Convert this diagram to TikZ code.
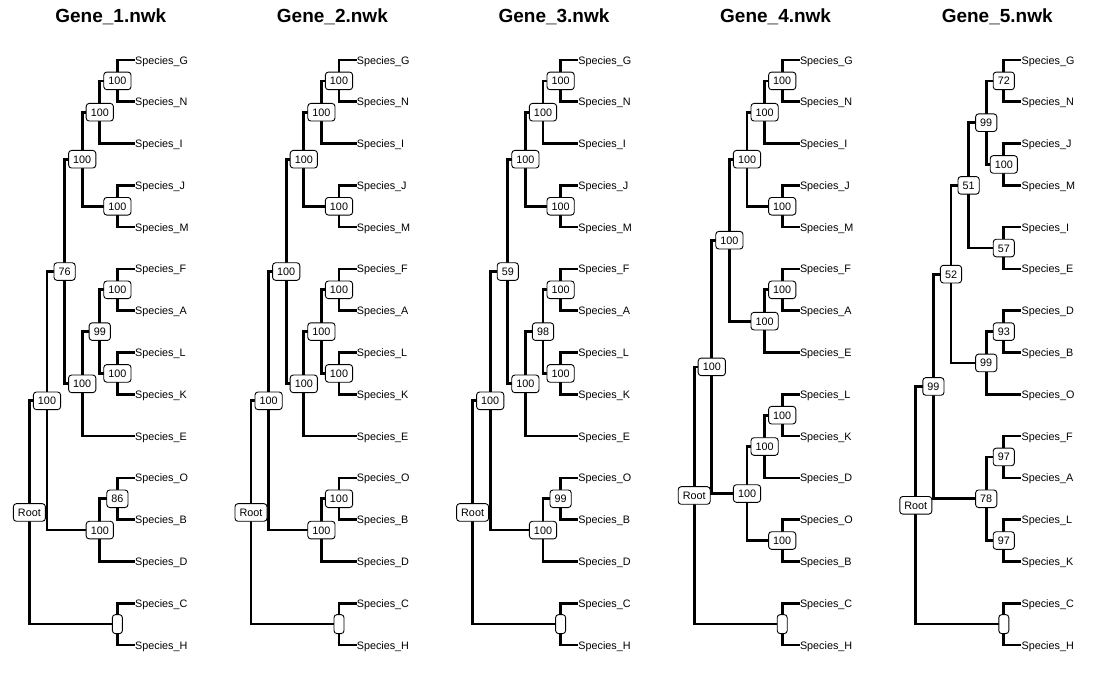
\documentclass[tikz,border=0pt]{standalone}
\usepackage{fontspec}
\setmainfont{Liberation Sans}
\tikzset{
  branch/.style={line width=2.7pt, line join=miter, black},
  tiplab/.style={anchor=west, inner sep=0pt, text height=8pt, text depth=0pt, font=\fontsize{10.8}{12}\selectfont},
  blab/.style={draw, line width=0.9pt, rounded corners=3pt, fill=white, inner xsep=4.6pt, inner ysep=4.8pt, text height=8pt, text depth=0pt, font=\fontsize{10.8}{12}\selectfont},
  emptylab/.style={draw, line width=0.9pt, rounded corners=3pt, fill=white, inner sep=0pt, minimum width=10pt, minimum height=19pt},
  titlelab/.style={inner sep=0pt, text height=13pt, text depth=0pt, font=\fontsize{19}{22}\selectfont\bfseries}
}
\newcommand{\TipN}[4]{\node[tiplab] (#2) at ({221.6*#1+135},{60+41.786*#3}) {#4};}
\newcommand{\InN}[4]{\coordinate (#2) at ({221.6*#1+135-17.6*#3},{60+41.786*#4});}
\newcommand{\Edg}[2]{\draw[branch] (#1) |- (#2);}
\newcommand{\TreeABC}[5]{%
  \TipN{#1}{#2G}{0}{Species\_G}
  \TipN{#1}{#2N}{1}{Species\_N}
  \TipN{#1}{#2I}{2}{Species\_I}
  \TipN{#1}{#2J}{3}{Species\_J}
  \TipN{#1}{#2M}{4}{Species\_M}
  \TipN{#1}{#2F}{5}{Species\_F}
  \TipN{#1}{#2A}{6}{Species\_A}
  \TipN{#1}{#2L}{7}{Species\_L}
  \TipN{#1}{#2K}{8}{Species\_K}
  \TipN{#1}{#2E}{9}{Species\_E}
  \TipN{#1}{#2O}{10}{Species\_O}
  \TipN{#1}{#2B}{11}{Species\_B}
  \TipN{#1}{#2D}{12}{Species\_D}
  \TipN{#1}{#2C}{13}{Species\_C}
  \TipN{#1}{#2H}{14}{Species\_H}
  \InN{#1}{#2GN}{1}{0.5}
  \InN{#1}{#2GNI}{2}{1.25}
  \InN{#1}{#2JM}{1}{3.5}
  \InN{#1}{#2X}{3}{2.375}
  \InN{#1}{#2FA}{1}{5.5}
  \InN{#1}{#2LK}{1}{7.5}
  \InN{#1}{#2FALK}{2}{6.5}
  \InN{#1}{#2FALKE}{3}{7.75}
  \InN{#1}{#2Y}{4}{5.0625}
  \InN{#1}{#2OB}{1}{10.5}
  \InN{#1}{#2OBD}{2}{11.25}
  \InN{#1}{#2Z}{5}{8.15625}
  \InN{#1}{#2CH}{1}{13.5}
  \InN{#1}{#2R}{6}{10.828125}
  \Edg{#2GN}{#2G.west}\Edg{#2GN}{#2N.west}
  \Edg{#2GNI}{#2GN}\Edg{#2GNI}{#2I.west}
  \Edg{#2JM}{#2J.west}\Edg{#2JM}{#2M.west}
  \Edg{#2X}{#2GNI}\Edg{#2X}{#2JM}
  \Edg{#2FA}{#2F.west}\Edg{#2FA}{#2A.west}
  \Edg{#2LK}{#2L.west}\Edg{#2LK}{#2K.west}
  \Edg{#2FALK}{#2FA}\Edg{#2FALK}{#2LK}
  \Edg{#2FALKE}{#2FALK}\Edg{#2FALKE}{#2E.west}
  \Edg{#2Y}{#2X}\Edg{#2Y}{#2FALKE}
  \Edg{#2OB}{#2O.west}\Edg{#2OB}{#2B.west}
  \Edg{#2OBD}{#2OB}\Edg{#2OBD}{#2D.west}
  \Edg{#2Z}{#2Y}\Edg{#2Z}{#2OBD}
  \Edg{#2CH}{#2C.west}\Edg{#2CH}{#2H.west}
  \Edg{#2R}{#2Z}\Edg{#2R}{#2CH}
  \node[blab] (#2GNl) at (#2GN) {100};
  \node[blab] (#2GNIl) at (#2GNI) {100};
  \node[blab] (#2JMl) at (#2JM) {100};
  \node[blab] (#2Xl) at (#2X) {100};
  \node[blab] (#2FAl) at (#2FA) {100};
  \node[blab] (#2LKl) at (#2LK) {100};
  \node[blab] (#2FALKl) at (#2FALK) {#4};
  \node[blab] (#2FALKEl) at (#2FALKE) {100};
  \node[blab] (#2Yl) at (#2Y) {#3};
  \node[blab] (#2OBl) at (#2OB) {#5};
  \node[blab] (#2OBDl) at (#2OBD) {100};
  \node[blab] (#2Zl) at (#2Z) {100};
  \node[emptylab] (#2CHl) at (#2CH) {};
  \node[blab] (#2Rl) at (#2R) {Root};
}
\begin{document}
\begin{tikzpicture}[x=1pt,y=-1pt]
\useasboundingbox (0,0) rectangle (1108,680);
\node[titlelab] (title1) at (110.8,16.5) {Gene\_1.nwk};
\node[titlelab] (title2) at (332.4,16.5) {Gene\_2.nwk};
\node[titlelab] (title3) at (554.0,16.5) {Gene\_3.nwk};
\node[titlelab] (title4) at (775.6,16.5) {Gene\_4.nwk};
\node[titlelab] (title5) at (997.2,16.5) {Gene\_5.nwk};
\TreeABC{0}{a}{76}{99}{86}
\TreeABC{1}{b}{100}{100}{100}
\TreeABC{2}{c}{59}{98}{99}
% Tree 4
\TipN{3}{dG}{0}{Species\_G}
\TipN{3}{dN}{1}{Species\_N}
\TipN{3}{dI}{2}{Species\_I}
\TipN{3}{dJ}{3}{Species\_J}
\TipN{3}{dM}{4}{Species\_M}
\TipN{3}{dF}{5}{Species\_F}
\TipN{3}{dA}{6}{Species\_A}
\TipN{3}{dE}{7}{Species\_E}
\TipN{3}{dL}{8}{Species\_L}
\TipN{3}{dK}{9}{Species\_K}
\TipN{3}{dD}{10}{Species\_D}
\TipN{3}{dO}{11}{Species\_O}
\TipN{3}{dB}{12}{Species\_B}
\TipN{3}{dC}{13}{Species\_C}
\TipN{3}{dH}{14}{Species\_H}
\InN{3}{dGN}{1}{0.5}
\InN{3}{dGNI}{2}{1.25}
\InN{3}{dJM}{1}{3.5}
\InN{3}{dX}{3}{2.375}
\InN{3}{dFA}{1}{5.5}
\InN{3}{dFAE}{2}{6.25}
\InN{3}{dY}{4}{4.3125}
\InN{3}{dLK}{1}{8.5}
\InN{3}{dLKD}{2}{9.25}
\InN{3}{dOB}{1}{11.5}
\InN{3}{dZ}{3}{10.375}
\InN{3}{dW}{5}{7.34375}
\InN{3}{dCH}{1}{13.5}
\InN{3}{dR}{6}{10.421875}
\Edg{dGN}{dG.west}\Edg{dGN}{dN.west}
\Edg{dGNI}{dGN}\Edg{dGNI}{dI.west}
\Edg{dJM}{dJ.west}\Edg{dJM}{dM.west}
\Edg{dX}{dGNI}\Edg{dX}{dJM}
\Edg{dFA}{dF.west}\Edg{dFA}{dA.west}
\Edg{dFAE}{dFA}\Edg{dFAE}{dE.west}
\Edg{dY}{dX}\Edg{dY}{dFAE}
\Edg{dLK}{dL.west}\Edg{dLK}{dK.west}
\Edg{dLKD}{dLK}\Edg{dLKD}{dD.west}
\Edg{dOB}{dO.west}\Edg{dOB}{dB.west}
\Edg{dZ}{dLKD}\Edg{dZ}{dOB}
\Edg{dW}{dY}\Edg{dW}{dZ}
\Edg{dCH}{dC.west}\Edg{dCH}{dH.west}
\Edg{dR}{dW}\Edg{dR}{dCH}
\node[blab] (dGNl) at (dGN) {100};
\node[blab] (dGNIl) at (dGNI) {100};
\node[blab] (dJMl) at (dJM) {100};
\node[blab] (dXl) at (dX) {100};
\node[blab] (dFAl) at (dFA) {100};
\node[blab] (dFAEl) at (dFAE) {100};
\node[blab] (dYl) at (dY) {100};
\node[blab] (dLKl) at (dLK) {100};
\node[blab] (dLKDl) at (dLKD) {100};
\node[blab] (dOBl) at (dOB) {100};
\node[blab] (dZl) at (dZ) {100};
\node[blab] (dWl) at (dW) {100};
\node[emptylab] (dCHl) at (dCH) {};
\node[blab] (dRl) at (dR) {Root};
% Tree 5
\TipN{4}{eG}{0}{Species\_G}
\TipN{4}{eN}{1}{Species\_N}
\TipN{4}{eJ}{2}{Species\_J}
\TipN{4}{eM}{3}{Species\_M}
\TipN{4}{eI}{4}{Species\_I}
\TipN{4}{eE}{5}{Species\_E}
\TipN{4}{eD}{6}{Species\_D}
\TipN{4}{eB}{7}{Species\_B}
\TipN{4}{eO}{8}{Species\_O}
\TipN{4}{eF}{9}{Species\_F}
\TipN{4}{eA}{10}{Species\_A}
\TipN{4}{eL}{11}{Species\_L}
\TipN{4}{eK}{12}{Species\_K}
\TipN{4}{eC}{13}{Species\_C}
\TipN{4}{eH}{14}{Species\_H}
\InN{4}{eGN}{1}{0.5}
\InN{4}{eJM}{1}{2.5}
\InN{4}{eGNJM}{2}{1.5}
\InN{4}{eIE}{1}{4.5}
\InN{4}{eP}{3}{3}
\InN{4}{eDB}{1}{6.5}
\InN{4}{eDBO}{2}{7.25}
\InN{4}{eQ}{4}{5.125}
\InN{4}{eFA}{1}{9.5}
\InN{4}{eLK}{1}{11.5}
\InN{4}{eFALK}{2}{10.5}
\InN{4}{eS}{5}{7.8125}
\InN{4}{eCH}{1}{13.5}
\InN{4}{eR}{6}{10.65625}
\Edg{eGN}{eG.west}\Edg{eGN}{eN.west}
\Edg{eJM}{eJ.west}\Edg{eJM}{eM.west}
\Edg{eGNJM}{eGN}\Edg{eGNJM}{eJM}
\Edg{eIE}{eI.west}\Edg{eIE}{eE.west}
\Edg{eP}{eGNJM}\Edg{eP}{eIE}
\Edg{eDB}{eD.west}\Edg{eDB}{eB.west}
\Edg{eDBO}{eDB}\Edg{eDBO}{eO.west}
\Edg{eQ}{eP}\Edg{eQ}{eDBO}
\Edg{eFA}{eF.west}\Edg{eFA}{eA.west}
\Edg{eLK}{eL.west}\Edg{eLK}{eK.west}
\Edg{eFALK}{eFA}\Edg{eFALK}{eLK}
\Edg{eS}{eQ}\Edg{eS}{eFALK}
\Edg{eCH}{eC.west}\Edg{eCH}{eH.west}
\Edg{eR}{eS}\Edg{eR}{eCH}
\node[blab] (eGNl) at (eGN) {72};
\node[blab] (eJMl) at (eJM) {100};
\node[blab] (eGNJMl) at (eGNJM) {99};
\node[blab] (eIEl) at (eIE) {57};
\node[blab] (ePl) at (eP) {51};
\node[blab] (eDBl) at (eDB) {93};
\node[blab] (eDBOl) at (eDBO) {99};
\node[blab] (eQl) at (eQ) {52};
\node[blab] (eFAl) at (eFA) {97};
\node[blab] (eLKl) at (eLK) {97};
\node[blab] (eFALKl) at (eFALK) {78};
\node[blab] (eSl) at (eS) {99};
\node[emptylab] (eCHl) at (eCH) {};
\node[blab] (eRl) at (eR) {Root};
\end{tikzpicture}
\end{document}
